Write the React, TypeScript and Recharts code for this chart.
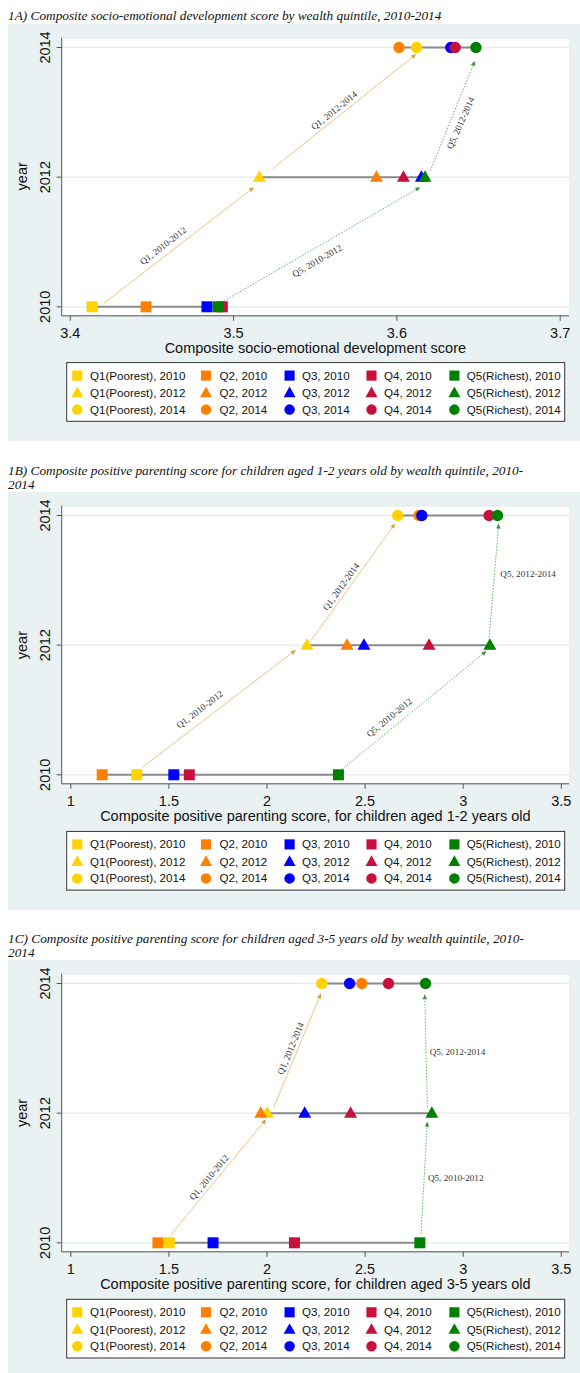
import React from 'react';
import { ScatterChart, Scatter, XAxis, YAxis, CartesianGrid } from 'recharts';

const quintileNames = ['Q1(Poorest)', 'Q2', 'Q3', 'Q4', 'Q5(Richest)'];
const surveyYears = [2010, 2012, 2014];
const quintileColors = ['#ffd200', '#ff7f00', '#0000ff', '#c8103c', '#008000'];
const yearTicks = [2010, 2012, 2014];

// 1A
const socioTitle = ['1A) Composite socio-emotional development score by wealth quintile, 2010-2014'];
const socioAxisTitle = 'Composite socio-emotional development score';
const socioTicks = [3.4, 3.5, 3.6, 3.7];
const socio2010 = [3.4133, 3.4464, 3.4837, 3.4931, 3.4905];
const socio2012 = [3.5158, 3.5875, 3.615, 3.604, 3.6172];
const socio2014 = [3.612, 3.6013, 3.633, 3.6357, 3.6484];
const socioArrows = [
  { group: 'Q1', x1: 3.4205, y1: 2010.052, x2: 3.5125, y2: 2011.845 },
  { group: 'Q5', x1: 3.4943, y1: 2010.093, x2: 3.6143, y2: 2011.845 },
  { group: 'Q1', x1: 3.5239, y1: 2012.129, x2: 3.6118, y2: 2013.898 },
  { group: 'Q5', x1: 3.6205, y1: 2012.1, x2: 3.6477, y2: 2013.794 },
];
const socioArrowLabels = [
  { text: 'Q1, 2010-2012', x: 3.4568, y: 2010.943, angle: 37.7, anchor: 'middle' },
  { text: 'Q5, 2010-2012', x: 3.5511, y: 2010.711, angle: 30, anchor: 'middle' },
  { text: 'Q1, 2012-2014', x: 3.5615, y: 2013.03, angle: 38.7, anchor: 'middle' },
  { text: 'Q5, 2012-2014', x: 3.6389, y: 2012.836, angle: 66, anchor: 'middle' },
];

// 1B
const toddlerTitle = [
  '1B) Composite positive parenting score for children aged 1-2 years old by wealth quintile, 2010-',
  '2014',
];
const toddlerAxisTitle = 'Composite positive parenting score, for children aged 1-2 years old';
const parentingTicks = [1, 1.5, 2, 2.5, 3, 3.5];
const toddler2010 = [1.336, 1.16, 1.525, 1.604, 2.364];
const toddler2012 = [2.204, 2.408, 2.494, 2.826, 3.136];
const toddler2014 = [2.666, 2.775, 2.789, 3.132, 3.175];
const toddlerArrows = [
  { group: 'Q1', x1: 1.364, y1: 2010.114, x2: 2.147, y2: 2011.927 },
  { group: 'Q5', x1: 2.383, y1: 2010.088, x2: 3.119, y2: 2011.91 },
  { group: 'Q1', x1: 2.223, y1: 2012.066, x2: 2.653, y2: 2013.877 },
  { group: 'Q5', x1: 3.132, y1: 2012.12, x2: 3.181, y2: 2013.877 },
];
const toddlerArrowLabels = [
  { text: 'Q1, 2010-2012', x: 1.657, y: 2011.01, angle: 37.4, anchor: 'middle' },
  { text: 'Q5, 2010-2012', x: 2.623, y: 2010.886, angle: 39.3, anchor: 'middle' },
  { text: 'Q1, 2012-2014', x: 2.377, y: 2012.904, angle: 54.3, anchor: 'middle' },
  { text: 'Q5, 2012-2014', x: 3.189, y: 2013.105, angle: 0, anchor: 'start' },
];

// 1C
const preschoolTitle = [
  '1C) Composite positive parenting score for children aged 3-5 years old by wealth quintile, 2010-',
  '2014',
];
const preschoolAxisTitle = 'Composite positive parenting score, for children aged 3-5 years old';
const preschool2010 = [1.502, 1.444, 1.725, 2.14, 2.779];
const preschool2012 = [2.002, 1.968, 2.192, 2.426, 2.84];
const preschool2014 = [2.279, 2.483, 2.421, 2.619, 2.808];
const preschoolArrows = [
  { group: 'Q1', x1: 1.502, y1: 2010.097, x2: 1.996, y2: 2011.907 },
  { group: 'Q5', x1: 2.785, y1: 2010.14, x2: 2.817, y2: 2011.87 },
  { group: 'Q1', x1: 2.034, y1: 2012.09, x2: 2.275, y2: 2013.846 },
  { group: 'Q5', x1: 2.817, y1: 2012.09, x2: 2.804, y2: 2013.835 },
];
const preschoolArrowLabels = [
  { text: 'Q1, 2010-2012', x: 1.704, y: 2011.01, angle: 50.3, anchor: 'middle' },
  { text: 'Q5, 2010-2012', x: 2.82, y: 2011.0, angle: 0, anchor: 'start' },
  { text: 'Q1, 2012-2014', x: 2.12, y: 2013.0, angle: 67.4, anchor: 'middle' },
  { text: 'Q5, 2012-2014', x: 2.829, y: 2012.944, angle: 0, anchor: 'start' },
];

const SANS = '"Liberation Sans", Arial, Helvetica, sans-serif';
const SERIF = '"Liberation Serif", "Times New Roman", serif';
const BG = '#e9f1f3';
const GRID = '#e1eaee';
const AXIS = '#555';
const SPAN = '#8a8a8a';
const Y_DOMAIN = [2009.8612, 2014.1496];

const Empty = () => <g />;

function Marker({ year, cx, cy, color, s = 1 }) {
  if (year === 2010) {
    const h = 5.5 * s;
    return <rect x={cx - h} y={cy - h} width={2 * h} height={2 * h} fill={color} />;
  }
  if (year === 2012) {
    return (
      <polygon
        points={`${cx},${cy - 7 * s} ${cx - 6.5 * s},${cy + 4.5 * s} ${cx + 6.5 * s},${cy + 4.5 * s}`}
        fill={color}
      />
    );
  }
  return <circle cx={cx} cy={cy} r={5.7 * s} fill={color} />;
}

function ArrowLine({ points, color, headColor, dash }) {
  if (!points || points.length < 2) return <g />;
  const a = points[0];
  const b = points[1];
  const dx = b.x - a.x;
  const dy = b.y - a.y;
  const len = Math.hypot(dx, dy) || 1;
  const ux = dx / len;
  const uy = dy / len;
  const hl = 5;
  const hw = 2.2;
  const bx = b.x - ux * hl;
  const by = b.y - uy * hl;
  const head = `${b.x},${b.y} ${bx - uy * hw},${by + ux * hw} ${bx + uy * hw},${by - ux * hw}`;
  return (
    <g>
      <line x1={a.x} y1={a.y} x2={bx} y2={by} stroke={color} strokeWidth={1} strokeDasharray={dash} />
      <polygon points={head} fill={headColor} />
    </g>
  );
}

const LabelShape = (props) => {
  const { cx, cy, payload } = props;
  const angle = payload.angle;
  return (
    <text
      x={cx}
      y={cy}
      dy="0.35em"
      textAnchor={payload.anchor}
      transform={angle ? `rotate(${-angle} ${cx} ${cy})` : undefined}
      fontFamily={SERIF}
      fontSize={9.2}
      fill="#333"
    >
      {payload.text}
    </text>
  );
};

const YTick = (props) => {
  const { x, y, payload } = props;
  return (
    <text
      x={x}
      y={y}
      transform={`rotate(-90 ${x} ${y})`}
      textAnchor="middle"
      fontSize={14.5}
      fill="#111"
      fontFamily={SANS}
    >
      {payload.value}
    </text>
  );
};

const legendMarkerX = [77.3, 206, 289.6, 371.5, 454.4];
const legendTextX = [90, 219.6, 301.9, 384, 466.7];

function Panel({ bgTop, title, axisTitle, xDomain, xTicks, values, arrows, labels }) {
  const marginTop = 13.8;
  const plotH = 278;
  const plotTop = bgTop + marginTop;
  const axisY = plotTop + plotH;
  const chartH = marginTop + plotH + 50;
  const plotLeft = 61.7;
  const plotRight = 569;

  const spans = values.map((arr, yi) => [
    { x: Math.min(...arr), y: surveyYears[yi] },
    { x: Math.max(...arr), y: surveyYears[yi] },
  ]);

  const series = [];
  values.forEach((arr, yi) =>
    arr.forEach((v, qi) =>
      series.push({ year: surveyYears[yi], qi, data: [{ x: v, y: surveyYears[yi] }] })
    )
  );

  const legendTop = axisY + 47.3;
  const rowY = [legendTop + 13, legendTop + 30.4, legendTop + 47];

  return (
    <>
      <div style={{ position: 'absolute', left: 8, top: bgTop, width: 572, height: 417.5, background: BG }} />
      <div style={{ position: 'absolute', left: 0, top: bgTop }}>
        <ScatterChart width={580} height={chartH} margin={{ top: marginTop, right: 580 - plotRight, bottom: 0, left: 0 }}>
          <CartesianGrid vertical={false} horizontal fill="#ffffff" stroke={GRID} strokeWidth={1.3} />
          <XAxis
            type="number"
            dataKey="x"
            domain={xDomain}
            ticks={xTicks}
            allowDataOverflow
            interval={0}
            height={50}
            tickSize={5}
            tickMargin={6.5}
            axisLine={{ stroke: AXIS }}
            tickLine={{ stroke: AXIS }}
            tick={{ fontSize: 14.5, fill: '#111', fontFamily: SANS }}
          />
          <YAxis
            type="number"
            dataKey="y"
            domain={Y_DOMAIN}
            ticks={yearTicks}
            allowDataOverflow
            interval={0}
            width={plotLeft}
            tickSize={5}
            tickMargin={6.5}
            axisLine={{ stroke: AXIS }}
            tickLine={{ stroke: AXIS }}
            tick={YTick}
          />
          {spans.map((d, i) => (
            <Scatter
              key={'span' + i}
              data={d}
              line={{ stroke: SPAN, strokeWidth: 2 }}
              shape={Empty}
              isAnimationActive={false}
            />
          ))}
          {arrows.map((a, i) => {
            const q1 = a.group === 'Q1';
            return (
              <Scatter
                key={'arrow' + i}
                data={[{ x: a.x1, y: a.y1 }, { x: a.x2, y: a.y2 }]}
                shape={Empty}
                isAnimationActive={false}
                line={(p) => (
                  <ArrowLine
                    points={p.points}
                    color={q1 ? '#f2c27e' : '#5cb85c'}
                    headColor={q1 ? '#dd9a35' : '#3d8f3d'}
                    dash={q1 ? undefined : '1.5 1.5'}
                  />
                )}
              />
            );
          })}
          {series.map((s, i) => (
            <Scatter
              key={'m' + i}
              name={`${quintileNames[s.qi]}, ${s.year}`}
              data={s.data}
              isAnimationActive={false}
              shape={(p) => <Marker year={s.year} cx={p.cx} cy={p.cy} color={quintileColors[s.qi]} />}
            />
          ))}
          <Scatter data={labels} shape={LabelShape} isAnimationActive={false} />
        </ScatterChart>
      </div>
      <svg
        width={580}
        height={1373}
        style={{ position: 'absolute', left: 0, top: 0, pointerEvents: 'none' }}
      >
        {title.map((line, i) => (
          <text
            key={i}
            x={8}
            y={bgTop - 3.2 - (title.length - 1 - i) * 14}
            fontFamily={SERIF}
            fontStyle="italic"
            fontSize={13.3}
            fill="#111"
          >
            {line}
          </text>
        ))}
        <text
          x={27.3}
          y={plotTop + plotH / 2}
          transform={`rotate(-90 27.3 ${plotTop + plotH / 2})`}
          textAnchor="middle"
          fontFamily={SANS}
          fontSize={14.5}
          fill="#111"
        >
          year
        </text>
        <text
          x={(plotLeft + plotRight) / 2}
          y={axisY + 37.3}
          textAnchor="middle"
          fontFamily={SANS}
          fontSize={14.5}
          fill="#111"
        >
          {axisTitle}
        </text>
        <rect x={66.7} y={legendTop} width={498} height={58.7} fill="#fff" stroke="#333" strokeWidth={1} />
        {surveyYears.map((yr, ri) =>
          quintileNames.map((qn, qi) => (
            <g key={`${ri}-${qi}`}>
              <Marker year={yr} cx={legendMarkerX[qi]} cy={rowY[ri]} color={quintileColors[qi]} s={0.92} />
              <text x={legendTextX[qi]} y={rowY[ri] + 4} fontFamily={SANS} fontSize={11.6} fill="#111">
                {`${qn}, ${yr}`}
              </text>
            </g>
          ))
        )}
      </svg>
    </>
  );
}

export default function App() {
  return (
    <div style={{ position: 'absolute', left: 0, top: 0, width: 580, height: 1373, overflow: 'hidden', background: '#fff' }}>
      <Panel
        bgTop={23.5}
        title={socioTitle}
        axisTitle={socioAxisTitle}
        xDomain={[3.39473, 3.70539]}
        xTicks={socioTicks}
        values={[socio2010, socio2012, socio2014]}
        arrows={socioArrows}
        labels={socioArrowLabels}
      />
      <Panel
        bgTop={492.3}
        title={toddlerTitle}
        axisTitle={toddlerAxisTitle}
        xDomain={[0.9536, 3.5392]}
        xTicks={parentingTicks}
        values={[toddler2010, toddler2012, toddler2014]}
        arrows={toddlerArrows}
        labels={toddlerArrowLabels}
      />
      <Panel
        bgTop={960.2}
        title={preschoolTitle}
        axisTitle={preschoolAxisTitle}
        xDomain={[0.9536, 3.5392]}
        xTicks={parentingTicks}
        values={[preschool2010, preschool2012, preschool2014]}
        arrows={preschoolArrows}
        labels={preschoolArrowLabels}
      />
    </div>
  );
}
